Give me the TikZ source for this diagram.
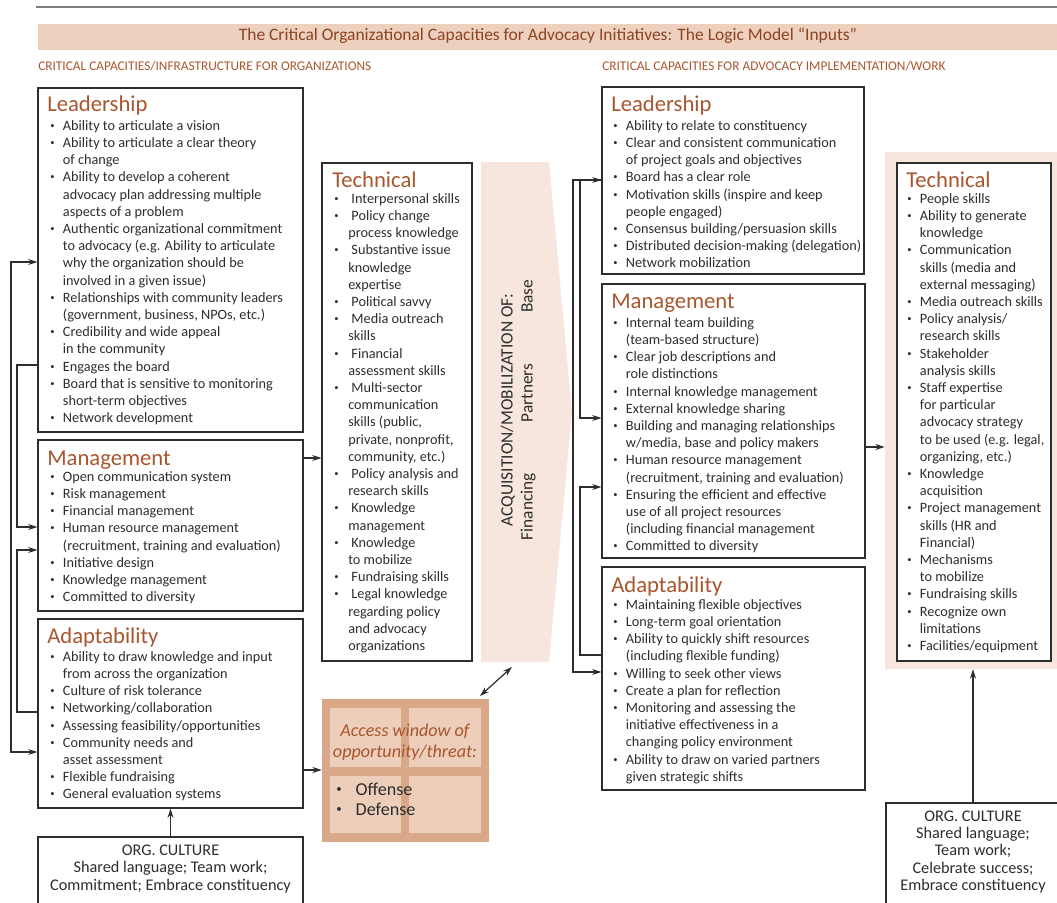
\documentclass[tikz,border=0pt]{standalone}
\usepackage{fontspec}
\setmainfont{Carlito}
\usetikzlibrary{arrows.meta,fit}
\definecolor{rust}{RGB}{168,86,46}
\definecolor{darkrust}{RGB}{140,68,34}
\definecolor{bandfill}{RGB}{237,208,190}
\definecolor{chevfill}{RGB}{246,230,221}
\definecolor{winfill}{RGB}{216,168,137}
\definecolor{cellfill}{RGB}{236,206,187}
\definecolor{inkgray}{RGB}{45,45,45}
\newcommand{\itm}[1][9.5pt]{\makebox[#1][l]{\raisebox{.3ex}{\scalebox{.6}{\textbullet}}}}
\newcommand{\cnt}{\hspace*{9.5pt}}

\begin{document}
\begin{tikzpicture}[x=0.75pt,y=-0.75pt,
  box/.style={draw=inkgray, line width=0.9pt, inner sep=0pt},
  head/.style={anchor=base west, inner sep=0pt, text=rust, font=\fontsize{17}{20}\selectfont},
  items/.style={anchor=north west, inner sep=0pt, align=left, text=inkgray, font=\fontsize{10.7}{12.9}\selectfont},
  culture/.style={align=center, inner sep=0pt, text=inkgray, font=\fontsize{12.2}{12.9}\selectfont},
  subhead/.style={anchor=west, inner sep=0pt, text=rust, font=\fontsize{10}{12}\selectfont},
  link/.style={draw=inkgray, line width=0.9pt, -{Stealth[length=7pt,width=4.5pt]}},
  twolink/.style={draw=inkgray, line width=0.9pt, {Stealth[length=7pt,width=4.5pt]}-{Stealth[length=7pt,width=4.5pt]}}]
\useasboundingbox (0,0) rectangle (1057,903);

% title band
\draw[gray, line width=1.4pt] (36,7) -- (1057,7);
\node[fill=bandfill, inner sep=0pt, fit={(38,24) (1057,50)}] (band) {};
\node[text=darkrust, font=\fontsize{13.1}{15}\selectfont] (title) at (548,36) {The Critical Organizational Capacities for Advocacy Initiatives: The Logic Model “Inputs”};
\node[subhead] (sub1) at (38,66) {CRITICAL CAPACITIES/INFRASTRUCTURE FOR ORGANIZATIONS};
\node[subhead] (sub2) at (602,66) {CRITICAL CAPACITIES FOR ADVOCACY IMPLEMENTATION/WORK};

% left column
\node[box, fit={(38,88) (303,432)}] (lead1) {};
\node[head] at (47,111) {Leadership};
\node[items] at (50,118) {\strut\itm Ability to articulate a vision\\
\itm Ability to articulate a clear theory\\
\cnt of change\\
\itm Ability to develop a coherent\\
\cnt advocacy plan addressing multiple\\
\cnt aspects of a problem\\
\itm Authentic organizational commitment\\
\cnt to advocacy (e.g. Ability to articulate\\
\cnt why the organization should be\\
\cnt involved in a given issue)\\
\itm Relationships with community leaders\\
\cnt (government, business, NPOs, etc.)\\
\itm Credibility and wide appeal\\
\cnt in the community\\
\itm Engages the board\\
\itm Board that is sensitive to monitoring\\
\cnt short-term objectives\\
\itm Network development};

\node[box, fit={(38,440) (303,611)}] (man1) {};
\node[head] at (47,465) {Management};
\node[items] at (50,469) {\strut\itm Open communication system\\
\itm Risk management\\
\itm Financial management\\
\itm Human resource management\\
\cnt (recruitment, training and evaluation)\\
\itm Initiative design\\
\itm Knowledge management\\
\itm Committed to diversity};

\node[box, fit={(38,619) (303,808)}] (adp1) {};
\node[head] at (47,643) {Adaptability};
\node[items] at (50,649) {\strut\itm Ability to draw knowledge and input\\
\cnt from across the organization\\
\itm Culture of risk tolerance\\
\itm Networking/collaboration\\
\itm Assessing feasibility/opportunities\\
\itm Community needs and\\
\cnt asset assessment\\
\itm Flexible fundraising\\
\itm General evaluation systems};

\node[box, fit={(38,837) (303,906)}] (org1) {};
\node[culture] at (170.5,869) {ORG. CULTURE\\Shared language; Team work;\\Commitment; Embrace constituency};

% technical (left)
\node[box, fit={(322,163) (472,661)}] (tech1) {};
\node[head] at (332,187) {Technical};
\node[items] at (334,191) {\strut\itm[10.5pt] Interpersonal skills\\
\itm[10.5pt] Policy change\\
\hspace*{10.5pt}process knowledge\\
\itm[10.5pt] Substantive issue\\
\hspace*{10.5pt}knowledge\\
\hspace*{10.5pt}expertise\\
\itm[10.5pt] Political savvy\\
\itm[10.5pt] Media outreach\\
\hspace*{10.5pt}skills\\
\itm[10.5pt] Financial\\
\hspace*{10.5pt}assessment skills\\
\itm[10.5pt] Multi-sector\\
\hspace*{10.5pt}communication\\
\hspace*{10.5pt}skills (public,\\
\hspace*{10.5pt}private, nonprofit,\\
\hspace*{10.5pt}community, etc.)\\
\itm[10.5pt] Policy analysis and\\
\hspace*{10.5pt}research skills\\
\itm[10.5pt] Knowledge\\
\hspace*{10.5pt}management\\
\itm[10.5pt] Knowledge\\
\hspace*{10.5pt}to mobilize\\
\itm[10.5pt] Fundraising skills\\
\itm[10.5pt] Legal knowledge\\
\hspace*{10.5pt}regarding policy\\
\hspace*{10.5pt}and advocacy\\
\hspace*{10.5pt}organizations};

% chevron
\fill[chevfill] (481,162) -- (549,162) -- (572,412) -- (549,662) -- (481,662) -- cycle;
\node[rotate=90, align=center, text=inkgray, font=\fontsize{13}{15}\selectfont] (acq) at (518,410)
  {ACQUISITION/MOBILIZATION OF:\\Financing\hspace{38pt}Partners\hspace{38pt}Base};
\coordinate (chevfoot) at (512,667);

% access window
\node[fill=winfill, inner sep=0pt, fit={(322,699) (489,842)}] (win) {};
\fill[cellfill] (330,708) rectangle (401,767);
\fill[cellfill] (409,708) rectangle (481,767);
\fill[cellfill] (330,776) rectangle (401,833);
\fill[cellfill] (409,776) rectangle (481,833);
\node[align=center, text=rust, font=\itshape\fontsize{13.6}{15.5}\selectfont] (wintitle) at (405,742) {Access window of\\opportunity/threat:};
\node[items, font=\fontsize{13.6}{15}\selectfont] (winlist) at (336,781) {\strut\itm[11.5pt] Offense\\\itm[11.5pt] Defense};
\coordinate (winhook) at (480,696);

% right column
\node[box, fit={(602,87) (864,274)}] (lead2) {};
\node[head] at (611,111) {Leadership};
\node[items] at (613,118) {\strut\itm Ability to relate to constituency\\
\itm Clear and consistent communication\\
\cnt of project goals and objectives\\
\itm Board has a clear role\\
\itm Motivation skills (inspire and keep\\
\cnt people engaged)\\
\itm Consensus building/persuasion skills\\
\itm Distributed decision-making (delegation)\\
\itm Network mobilization};

\node[box, fit={(602,284) (865,558)}] (man2) {};
\node[head] at (611,308) {Management};
\node[items] at (613,315) {\strut\itm Internal team building\\
\cnt (team-based structure)\\
\itm Clear job descriptions and\\
\cnt role distinctions\\
\itm Internal knowledge management\\
\itm External knowledge sharing\\
\itm Building and managing relationships\\
\cnt w/media, base and policy makers\\
\itm Human resource management\\
\cnt (recruitment, training and evaluation)\\
\itm Ensuring the efficient and effective\\
\cnt use of all project resources\\
\cnt (including financial management\\
\itm Committed to diversity};

\node[box, fit={(602,567) (865,790)}] (adp2) {};
\node[head] at (611,592) {Adaptability};
\node[items] at (613,597) {\strut\itm Maintaining flexible objectives\\
\itm Long-term goal orientation\\
\itm Ability to quickly shift resources\\
\cnt (including flexible funding)\\
\itm Willing to seek other views\\
\itm Create a plan for reflection\\
\itm Monitoring and assessing the\\
\cnt initiative effectiveness in a\\
\cnt changing policy environment\\
\itm Ability to draw on varied partners\\
\cnt given strategic shifts};

% technical (right)
\node[fill=chevfill, inner sep=0pt, fit={(885,152) (1060,669)}] (techbg) {};
\node[box, fill=white, fit={(897,163) (1051,661)}] (tech2) {};
\node[head] at (906,187) {Technical};
\node[items] at (907,191) {\strut\itm People skills\\
\itm Ability to generate\\
\cnt knowledge\\
\itm Communication\\
\cnt skills (media and\\
\cnt external messaging)\\
\itm Media outreach skills\\
\itm Policy analysis/\\
\cnt research skills\\
\itm Stakeholder\\
\cnt analysis skills\\
\itm Staff expertise\\
\cnt for particular\\
\cnt advocacy strategy\\
\cnt to be used (e.g. legal,\\
\cnt organizing, etc.)\\
\itm Knowledge\\
\cnt acquisition\\
\itm Project management\\
\cnt skills (HR and\\
\cnt Financial)\\
\itm Mechanisms\\
\cnt to mobilize\\
\itm Fundraising skills\\
\itm Recognize own\\
\cnt limitations\\
\itm Facilities/equipment};

\node[box, fit={(886,803) (1062,906)}] (org2) {};
\node[culture] at (973,852) {ORG. CULTURE\\Shared language;\\Team work;\\Celebrate success;\\Embrace constituency};

% connectors
\draw[link] (man1.east |- 0,458) -- (tech1.west |- 0,458);
\draw[link] (adp1.east |- 0,770) -- (win.west |- 0,770);
\draw[link] (org1.north) -- (adp1.south);
\draw[twolink] (winhook) -- (chevfoot);
\draw[link] (man2.east |- 0,447) -- (techbg.west |- 0,447);
\draw[link] (org2.north -| 973,0) -- (techbg.south -| 973,0);

% feedback loops, left
\draw[twolink] (lead1.west |- 0,262) -- (11,262) -- (11,752) -- (adp1.west |- 0,752);
\draw[link] (lead1.west |- 0,365) -- (17,365) -- (17,527) -- (man1.west |- 0,527);
\draw[link] (adp1.west |- 0,712) -- (17,712) -- (17,550) -- (man1.west |- 0,550);

% feedback loops, right
\draw[twolink] (lead2.west |- 0,180) -- (573,180) -- (573,672) -- (adp2.west |- 0,672);
\draw[link] (lead2.west |- 0,180) -- (580,180) -- (580,418) -- (man2.west |- 0,418);
\draw[link] (adp2.west |- 0,655) -- (580,655) -- (580,487) -- (man2.west |- 0,487);
\end{tikzpicture}
\end{document}
